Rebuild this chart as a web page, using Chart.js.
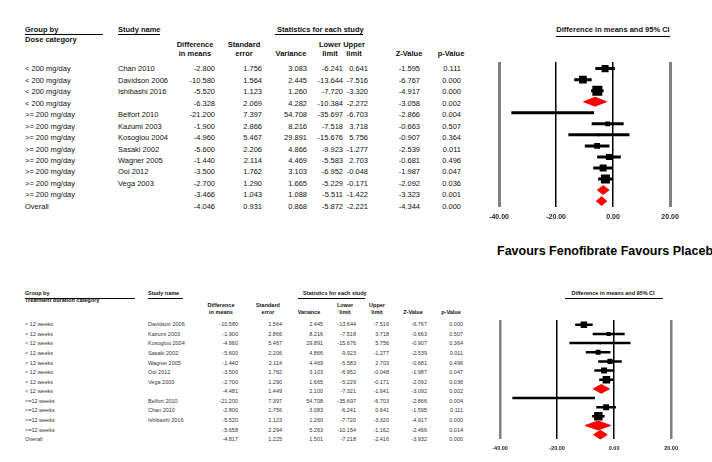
<!DOCTYPE html>
<html>
<head>
<meta charset="utf-8">
<script src="https://cdn.jsdelivr.net/npm/chart.js@4.4.0/dist/chart.umd.min.js"></script>
<style>
html, body { margin: 0; padding: 0; background: #fff; overflow: hidden; }
#page { position: relative; width: 712px; height: 462px; overflow: hidden; font-family: Arial, "Liberation Sans", sans-serif; color: #111; }
.t { position: absolute; white-space: nowrap; line-height: 1; }
.rule { position: absolute; height: 0; border-top: 1px solid #000; }
canvas { position: absolute; }
</style>
</head>
<body>
<div id="page">
    <canvas id="doseChart" width="242" height="165" style="left:470px;top:62px"></canvas>
    <canvas id="durationChart" width="242" height="138" style="left:471px;top:320px"></canvas>
</div>
<script>
// Grouped by dose category
const doseGroups = ['< 200 mg/day', '< 200 mg/day', '< 200 mg/day', '< 200 mg/day',
    '>= 200 mg/day', '>= 200 mg/day', '>= 200 mg/day', '>= 200 mg/day', '>= 200 mg/day',
    '>= 200 mg/day', '>= 200 mg/day', '>= 200 mg/day', 'Overall'];
const doseStudies = ['Chan 2010', 'Davidson 2006', 'Ishibashi 2016', '',
    'Belfort 2010', 'Kazumi 2003', 'Kosoglou 2004', 'Sasaki 2002', 'Wagner 2005',
    'Ooi 2012', 'Vega 2003', '', ''];
const doseMeans = [-2.800, -10.580, -5.520, -6.328, -21.200, -1.900, -4.960, -5.600, -1.440, -3.500, -2.700, -3.466, -4.046];
const doseSE = [1.756, 1.564, 1.123, 2.069, 7.397, 2.866, 5.467, 2.206, 2.114, 1.762, 1.290, 1.043, 0.931];
const doseVar = [3.083, 2.445, 1.260, 4.282, 54.708, 8.216, 29.891, 4.866, 4.469, 3.103, 1.665, 1.088, 0.868];
const doseLower = [-6.241, -13.644, -7.720, -10.384, -35.697, -7.518, -15.676, -9.923, -5.583, -6.952, -5.229, -5.511, -5.872];
const doseUpper = [0.641, -7.516, -3.320, -2.272, -6.703, 3.718, 5.756, -1.277, 2.703, -0.048, -0.171, -1.422, -2.221];
const doseZ = [-1.595, -6.767, -4.917, -3.058, -2.866, -0.663, -0.907, -2.539, -0.681, -1.987, -2.092, -3.323, -4.344];
const doseP = [0.111, 0.000, 0.000, 0.002, 0.004, 0.507, 0.364, 0.011, 0.496, 0.047, 0.036, 0.001, 0.000];

// Grouped by treatment duration
const durGroups = ['< 12 weeks', '< 12 weeks', '< 12 weeks', '< 12 weeks', '< 12 weeks',
    '< 12 weeks', '< 12 weeks', '< 12 weeks', '>=12 weeks', '>=12 weeks', '>=12 weeks',
    '>=12 weeks', 'Overall'];
const durStudies = ['Davidson 2006', 'Kazumi 2003', 'Kosoglou 2004', 'Sasaki 2002', 'Wagner 2005',
    'Ooi 2012', 'Vega 2003', '', 'Belfort 2010', 'Chan 2010', 'Ishibashi 2016', '', ''];
const durMeans = [-10.580, -1.900, -4.960, -5.600, -1.440, -3.500, -2.700, -4.481, -21.200, -2.800, -5.520, -5.658, -4.817];
const durSE = [1.564, 2.866, 5.467, 2.206, 2.114, 1.762, 1.290, 1.449, 7.397, 1.756, 1.123, 2.294, 1.225];
const durVar = [2.445, 8.216, 29.891, 4.866, 4.469, 3.103, 1.665, 2.100, 54.708, 3.083, 1.260, 5.263, 1.501];
const durLower = [-13.644, -7.518, -15.676, -9.923, -5.583, -6.952, -5.229, -7.321, -35.697, -6.241, -7.720, -10.154, -7.218];
const durUpper = [-7.516, 3.718, 5.756, -1.277, 2.703, -0.048, -0.171, -1.641, -6.703, 0.641, -3.320, -1.162, -2.416];
const durZ = [-6.767, -0.663, -0.907, -2.539, -0.681, -1.987, -2.092, -3.092, -2.866, -1.595, -4.917, -2.466, -3.932];
const durP = [0.000, 0.507, 0.364, 0.011, 0.496, 0.047, 0.036, 0.002, 0.004, 0.111, 0.000, 0.014, 0.000];

const axisTicks = [-40, -20, 0, 20];

const page = document.getElementById('page');

function txt(x, y, s, size, align, bold, color) {
    const el = document.createElement('div');
    el.className = 't';
    el.textContent = s;
    el.style.fontSize = size + 'px';
    el.style.top = (y - size / 2) + 'px';
    if (bold) el.style.fontWeight = 'bold';
    if (color) el.style.color = color;
    if (align === 'right') {
        el.style.right = (712 - x) + 'px';
    } else if (align === 'center') {
        el.style.left = x + 'px';
        el.style.transform = 'translateX(-50%)';
    } else {
        el.style.left = x + 'px';
    }
    page.appendChild(el);
}

function rule(x1, x2, y) {
    const el = document.createElement('div');
    el.className = 'rule';
    el.style.left = x1 + 'px';
    el.style.width = (x2 - x1) + 'px';
    el.style.top = y + 'px';
    page.appendChild(el);
}

function drawTable(t) {
    const f = t.size;
    txt(t.groupX, t.headY, 'Group by', f, 'left', true);
    txt(t.groupX, t.subY, t.groupTitle, f, 'left', true);
    rule(t.groupX, t.groupRule, t.ruleY);
    txt(t.studyX, t.headY, 'Study name', f, 'left', true);
    rule(t.studyX, t.studyRule, t.ruleY);
    txt(t.statsX, t.headY, 'Statistics for each study', f, 'left', true);
    rule(t.statsRule[0], t.statsRule[1], t.ruleY);

    const heads = [['Difference', 'in means'], ['Standard', 'error'], ['', 'Variance'],
        ['Lower', 'limit'], ['Upper', 'limit'], ['', 'Z-Value'], ['', 'p-Value']];
    heads.forEach((h, j) => {
        if (h[0]) txt(t.headCenters[j], t.colY1, h[0], f, 'center', true);
        txt(t.headCenters[j], t.colY2, h[1], f, 'center', true);
    });

    const cols = [t.means, t.se, t.variance, t.lower, t.upper, t.z, t.p];
    t.groups.forEach((g, i) => {
        const y = t.rowY0 + i * t.rowStep;
        txt(t.groupX, y, g, f, 'left', false, t.color);
        if (t.studies[i]) txt(t.studyX, y, t.studies[i], f, 'left', false, t.color);
        cols.forEach((c, j) => txt(t.colRight[j], y, c[i].toFixed(3), f, 'right', false, t.color));
    });

    txt(t.forestCenter, t.headY, 'Difference in means and 95% CI', f, 'center', true);
    rule(t.forestRule[0], t.forestRule[1], t.forestRuleY);
}

drawTable({
    size: 7.5, color: '#111',
    groupX: 25, studyX: 118, statsX: 277,
    headY: 30, subY: 40, ruleY: 34,
    groupTitle: 'Dose category', groupRule: 103, studyRule: 160, statsRule: [275, 363],
    colY1: 45, colY2: 54,
    headCenters: [195, 244, 291, 330, 354, 409, 451],
    colRight: [215, 262, 307, 343, 368, 420, 461],
    rowY0: 69, rowStep: 11.47,
    groups: doseGroups, studies: doseStudies,
    means: doseMeans, se: doseSE, variance: doseVar, lower: doseLower, upper: doseUpper, z: doseZ, p: doseP,
    forestCenter: 613, forestRule: [556, 670], forestRuleY: 36
});

drawTable({
    size: 5.5, color: '#333',
    groupX: 25, studyX: 148, statsX: 303,
    headY: 294, subY: 301, ruleY: 298,
    groupTitle: 'Treatment duration category', groupRule: 135, studyRule: 183, statsRule: [298, 365],
    colY1: 306, colY2: 313,
    headCenters: [221, 268, 309, 345, 377, 413, 451],
    colRight: [238, 282, 323, 356, 389, 427, 463],
    rowY0: 325, rowStep: 9.58,
    groups: durGroups, studies: durStudies,
    means: durMeans, se: durSE, variance: durVar, lower: durLower, upper: durUpper, z: durZ, p: durP,
    forestCenter: 613, forestRule: [565, 663], forestRuleY: 298
});

txt(497, 251, 'Favours Fenofibrate Favours Placebo', 12.5, 'left', true, '#000');

function buildForest(id, studies, means, lower, upper, variance, opts) {
    const datasets = [];
    const squares = [];
    const radii = [];
    studies.forEach((s, i) => {
        if (s) {
            datasets.push({
                data: [{ x: lower[i], y: i }, { x: upper[i], y: i }],
                showLine: true, borderColor: '#000', borderWidth: opts.whisker,
                pointRadius: 0, pointHoverRadius: 0, fill: false
            });
            squares.push({ x: means[i], y: i });
            // square size from study weight (inverse variance)
            radii.push(opts.k * Math.pow(variance[i], -0.4) / Math.SQRT2);
        } else {
            datasets.push({
                data: [
                    { x: lower[i], y: i }, { x: means[i], y: i - opts.dh },
                    { x: upper[i], y: i }, { x: means[i], y: i + opts.dh },
                    { x: lower[i], y: i }
                ],
                showLine: true, borderColor: '#ff0000', backgroundColor: '#ff0000', borderWidth: 1,
                pointRadius: 0, pointHoverRadius: 0, fill: 'shape', tension: 0
            });
        }
    });
    datasets.push({
        data: squares, pointStyle: 'rect', pointRadius: radii, pointHoverRadius: radii,
        backgroundColor: '#000', borderWidth: 0, showLine: false
    });

    new Chart(document.getElementById(id), {
        type: 'scatter',
        data: { datasets: datasets },
        options: {
            responsive: false,
            animation: false,
            layout: { padding: 0, autoPadding: false },
            plugins: { legend: { display: false }, tooltip: { enabled: false } },
            scales: {
                x: {
                    type: 'linear', min: -50.2, max: 34.7,
                    afterBuildTicks: function(axis) {
                        axis.ticks = axisTicks.map(v => ({ value: v }));
                    },
                    border: { display: false },
                    grid: {
                        drawTicks: false,
                        color: ctx => (ctx.tick && (ctx.tick.value === -40 || ctx.tick.value === 20)) ? '#808080' : '#000',
                        lineWidth: ctx => (ctx.tick && (ctx.tick.value === -40 || ctx.tick.value === 20)) ? opts.outerLine : opts.innerLine
                    },
                    ticks: {
                        padding: 6,
                        color: '#222',
                        font: { family: 'Arial, "Liberation Sans", sans-serif', size: opts.tickSize, weight: 'bold' },
                        callback: v => Number(v).toFixed(2)
                    }
                },
                y: {
                    type: 'linear', reverse: true, min: opts.yMin, max: opts.yMax, display: false
                }
            }
        }
    });
}

buildForest('doseChart', doseStudies, doseMeans, doseLower, doseUpper, doseVar,
    { k: 11, whisker: 3, dh: 0.4, yMin: -0.6, yMax: 12.5, tickSize: 7, outerLine: 3, innerLine: 1.5 });

buildForest('durationChart', durStudies, durMeans, durLower, durUpper, durVar,
    { k: 9.3, whisker: 2.5, dh: 0.48, yMin: -0.52, yMax: 12.52, tickSize: 5.5, outerLine: 2.5, innerLine: 1.5 });
</script>
</body>
</html>
